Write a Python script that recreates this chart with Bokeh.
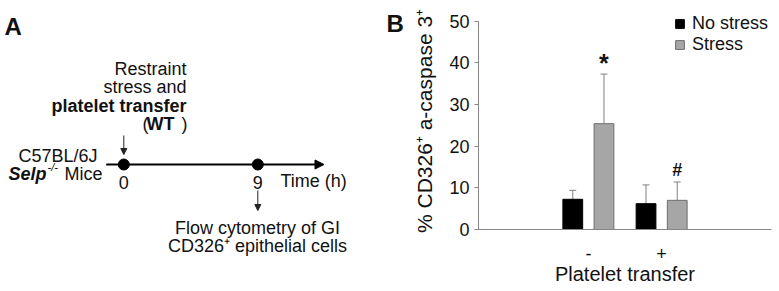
from bokeh.plotting import figure
from bokeh.layouts import row, column
from bokeh.models import (Range1d, Arrow, NormalHead, Whisker, TeeHead,
                          ColumnDataSource, FixedTicker, Legend, LegendItem, Label)
from bokeh.core.properties import value
from bokeh.embed import file_html
from bokeh.resources import INLINE

# ---------------- data ----------------
# Panel A (timeline)
time_points = [0, 9]
time_labels = ["0", "9"]
# Panel B (bar chart)
groups = ["-", "+"]
group_pos = [1.5, 2.5]
series = ["No stress", "Stress"]
no_stress = [7.25, 6.2]
no_stress_err = [2.15, 4.5]
stress = [25.4, 7.0]
stress_err = [11.9, 4.4]
sig_marks = ["*", "#"]
y_ticks = [0, 10, 20, 30, 40, 50]

FONT = "Liberation Sans"
INK = "#111111"

H = 291
WA = 410                     # panel A canvas (also holds the "B" tag)
WB = 779 - WA

# ---------------- Panel A ----------------
T0_PX, T9_PX = 123.3, 257.3
SC = (T9_PX - T0_PX) / 9.0


def hx(px):
    return (px - T0_PX) / SC


pa = figure(width=WA, height=H, output_backend="svg", toolbar_location=None,
            x_range=Range1d(hx(0), hx(WA)), y_range=Range1d(H, 0),
            x_axis_location=None, y_axis_location=None,
            min_border_left=0, min_border_right=0,
            min_border_top=0, min_border_bottom=0)
pa.grid.visible = False
pa.outline_line_color = None


def lab(fig, x, y, text, size="18px", style="normal", align="left", baseline="middle"):
    fig.add_layout(Label(x=x, y=y, text=text, text_font=FONT, text_font_size=size,
                         text_font_style=style, text_align=align, text_baseline=baseline,
                         text_color=INK))


lab(pa, hx(4), 12, "A", size="24px", style="bold", baseline="top")
lab(pa, hx(386), 9, "B", size="24px", style="bold", baseline="top")
lab(pa, hx(186), 68, "Restraint", align="right")
lab(pa, hx(186), 86, "stress and", align="right")
lab(pa, hx(186), 105, "platelet transfer", style="bold", align="right")
lab(pa, hx(187), 123, ")", align="right")
lab(pa, hx(174), 123, "WT", style="bold", align="right")
lab(pa, hx(148), 123, "(", align="right")
lab(pa, hx(97), 155, "C57BL/6J", align="right")
lab(pa, hx(8), 173, "Selp", style="bold italic")
lab(pa, hx(47), 166, "-/-", size="11px", style="italic")
lab(pa, hx(64), 173, "Mice")
lab(pa, hx(280), 180, "Time (h)")
lab(pa, hx(257), 227, "Flow cytometry of GI", align="center")
lab(pa, hx(257), 245, "CD326\u207a epithelial cells", align="center")

# timeline arrow
pa.add_layout(Arrow(x_start=hx(105.7), y_start=164, x_end=hx(323.5), y_end=164,
                    line_width=2, line_color="black",
                    end=NormalHead(size=9, fill_color="black", line_color="black")))
# time points
pa.scatter(x=time_points, y=[164, 164], size=11, marker="circle", color="black")
pa.text(x=time_points, y=[182, 182], text=time_labels, text_align="center",
        text_baseline="middle", text_font=value(FONT), text_font_size="18px",
        text_color=INK)
# small down arrows
pa.add_layout(Arrow(x_start=time_points[0], y_start=135, x_end=time_points[0], y_end=154,
                    line_width=1, line_color="#222222",
                    end=NormalHead(size=6, fill_color="#222222", line_color="#222222")))
pa.add_layout(Arrow(x_start=time_points[1], y_start=190, x_end=time_points[1], y_end=210,
                    line_width=1, line_color="#222222",
                    end=NormalHead(size=6, fill_color="#222222", line_color="#222222")))

# ---------------- Panel B ----------------
TOP, BOTTOM = 12, 62
PX_PER_UNIT = (229.3 - 20.7) / 50.0
y_top = 50 + (20.7 - TOP) / PX_PER_UNIT

pb = figure(width=WB, height=H, output_backend="svg", toolbar_location=None,
            x_range=Range1d(0, 4), y_range=Range1d(0, y_top),
            min_border_left=476 - WA, min_border_right=8,
            min_border_top=TOP, min_border_bottom=BOTTOM)
pb.grid.visible = False
pb.outline_line_color = None

OFF = 0.213
BW = 0.27
ns_x = [g - OFF for g in group_pos]
s_x = [g + OFF for g in group_pos]
ns_up = [v + e for v, e in zip(no_stress, no_stress_err)]
s_up = [v + e for v, e in zip(stress, stress_err)]

src_ns = ColumnDataSource(dict(x=ns_x, top=no_stress, upper=ns_up))
src_s = ColumnDataSource(dict(x=s_x, top=stress, upper=s_up))

for src in (src_ns, src_s):
    pb.add_layout(Whisker(base="x", lower="top", upper="upper", source=src,
                          line_color="#808080", line_width=1, lower_head=None,
                          upper_head=TeeHead(size=7, line_color="#808080", line_width=1)))

r_ns = pb.vbar(x="x", top="top", width=BW, source=src_ns, fill_color="black",
               line_color="black", line_width=1)
r_s = pb.vbar(x="x", top="top", width=BW, source=src_s, fill_color="#a6a6a6",
              line_color="#6e6e6e", line_width=1)

pb.text(x=[s_x[0]], y=[s_up[0] + 2.6], text=[sig_marks[0]],
        text_align="center", text_baseline="middle", text_font=value(FONT),
        text_font_size="25px", text_font_style="bold", text_color=INK)
pb.text(x=[s_x[1]], y=[s_up[1] + 2.8], text=[sig_marks[1]],
        text_align="center", text_baseline="middle", text_font=value(FONT),
        text_font_size="18px", text_font_style="bold", text_color=INK)

legend = Legend(items=[LegendItem(label=series[0], renderers=[r_ns]),
                       LegendItem(label=series[1], renderers=[r_s])],
                location=(196, 174), orientation="vertical", padding=0, margin=0,
                spacing=0, glyph_width=11, glyph_height=11, label_height=19,
                label_standoff=7, label_text_font=FONT, label_text_font_size="18px",
                label_text_color=INK,
                background_fill_alpha=0, border_line_alpha=0)
pb.add_layout(legend)

# axes
ya = pb.yaxis[0]
ya.ticker = FixedTicker(ticks=y_ticks)
ya.bounds = (y_ticks[0], y_ticks[-1])
ya.axis_line_color = "#868686"
ya.major_tick_line_color = "#868686"
ya.major_tick_out = 4
ya.major_tick_in = 0
ya.minor_tick_line_color = None
ya.major_label_text_font = FONT
ya.major_label_text_font_size = "18px"
ya.major_label_text_color = INK
ya.axis_label = "% CD326\u207a a-caspase 3\u207a"
ya.axis_label_text_font = FONT
ya.axis_label_text_font_size = "21px"
ya.axis_label_text_font_style = "normal"
ya.axis_label_text_color = INK
ya.axis_label_standoff = 10

xa = pb.xaxis[0]
xa.ticker = FixedTicker(ticks=group_pos)
xa.major_label_overrides = {group_pos[0]: groups[0], group_pos[1]: groups[1]}
xa.axis_line_color = "#868686"
xa.major_tick_line_color = None
xa.minor_tick_line_color = None
xa.major_label_standoff = 11
xa.major_label_text_font = FONT
xa.major_label_text_font_size = "18px"
xa.major_label_text_color = INK
xa.axis_label = "Platelet transfer"
xa.axis_label_text_font = FONT
xa.axis_label_text_font_size = "20px"
xa.axis_label_text_font_style = "normal"
xa.axis_label_text_color = INK
xa.axis_label_standoff = 0

layout = row(column(pa), column(pb))
open("out.html", "w").write(file_html(layout, INLINE))
